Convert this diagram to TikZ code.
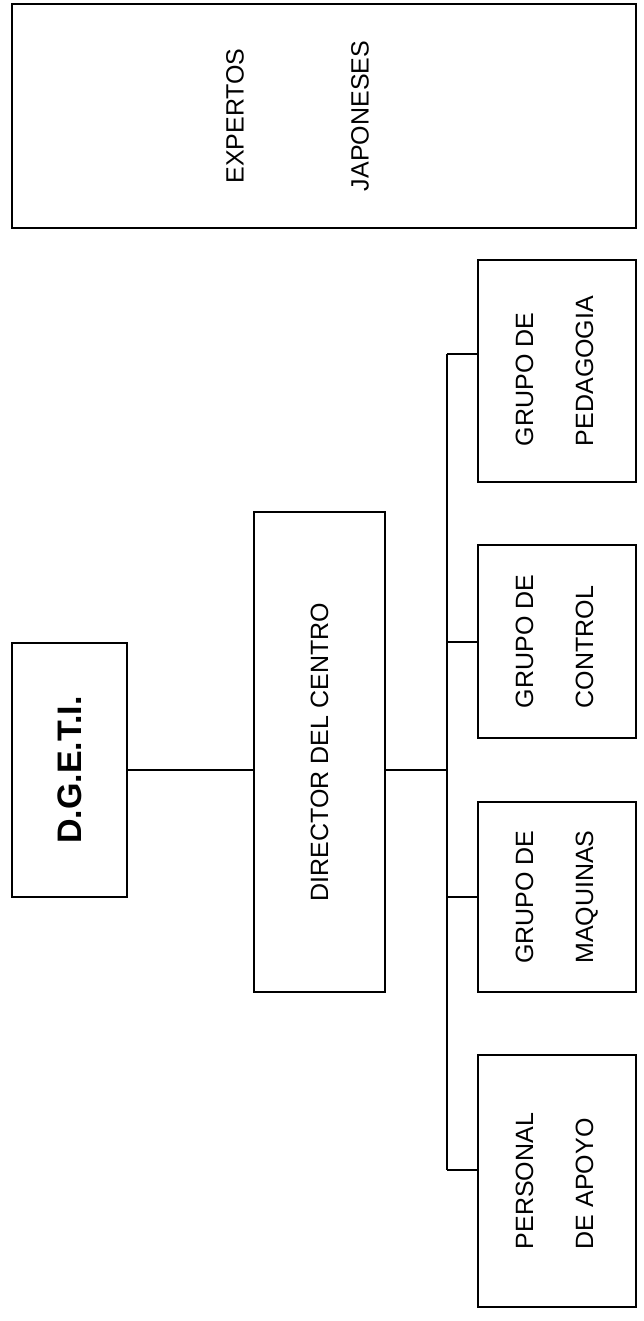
\documentclass[tikz,border=0pt]{standalone}
\usepackage{fontspec}
\setmainfont{Liberation Sans}
\usetikzlibrary{positioning,calc}

\newcommand{\uplines}[2]{\rotatebox{90}{\begin{tabular}{@{}l@{}}#1\\[15pt]#2\end{tabular}}}

\begin{document}
\begin{tikzpicture}[
    x=0.5pt, y=-0.5pt,
    box/.style={
      draw,
      line width=1pt,
      inner sep=0pt,
      font=\fontsize{12.5}{15}\selectfont
    },
    groupbox/.style={
      box,
      minimum width=79pt
    },
    link/.style={
      line width=1pt
    }]

    \useasboundingbox (0,0) rectangle (643,1321);

    % Top box across the page
    \node[box,minimum width=312pt,minimum height=112pt] (expertos) at (324,116) {
      {\rotatebox{90}{\begin{tabular}{@{}c@{}}EXPERTOS\\[47.5pt]JAPONESES\end{tabular}}\hspace{24pt}}
    };

    % Chain of command (left to right)
    \node[box,minimum width=57.5pt,minimum height=127pt,
          font=\fontsize{17}{20}\selectfont\bfseries] (dgeti) at (69.5,770) {
      \rotatebox{90}{D.G.E.T.I.}
    };

    \node[box,minimum width=65.5pt,minimum height=240pt] (director) at (319.5,752) {
      \rotatebox{90}{DIRECTOR DEL CENTRO}
    };

    % Groups under the director
    \node[groupbox,minimum height=111pt] (pedagogia) at (557,371) {\uplines{GRUPO DE}{PEDAGOGIA}};
    \node[groupbox,minimum height=96.5pt] (control) at (557,641.5) {\uplines{GRUPO DE}{CONTROL}};
    \node[groupbox,minimum height=95pt] (maquinas) at (557,897) {\uplines{GRUPO DE}{MAQUINAS}};
    \node[groupbox,minimum height=126pt] (apoyo) at (557,1181) {\uplines{PERSONAL}{DE APOYO}};

    % Bus line
    \coordinate (busA) at (447,354);
    \coordinate (busB) at (447,641.5);
    \coordinate (busC) at (447,897);
    \coordinate (busD) at (447,1170);

    \draw[link] (busA) -- (busD);
    \draw[link] (dgeti.east) -- (dgeti.east -| director.west);
    \draw[link] (dgeti.east -| director.east) -- (dgeti.east -| busA);
    \draw[link] (busA) -- (busA -| pedagogia.west);
    \draw[link] (busB) -- (busB -| control.west);
    \draw[link] (busC) -- (busC -| maquinas.west);
    \draw[link] (busD) -- (busD -| apoyo.west);
  \end{tikzpicture}
\end{document}
